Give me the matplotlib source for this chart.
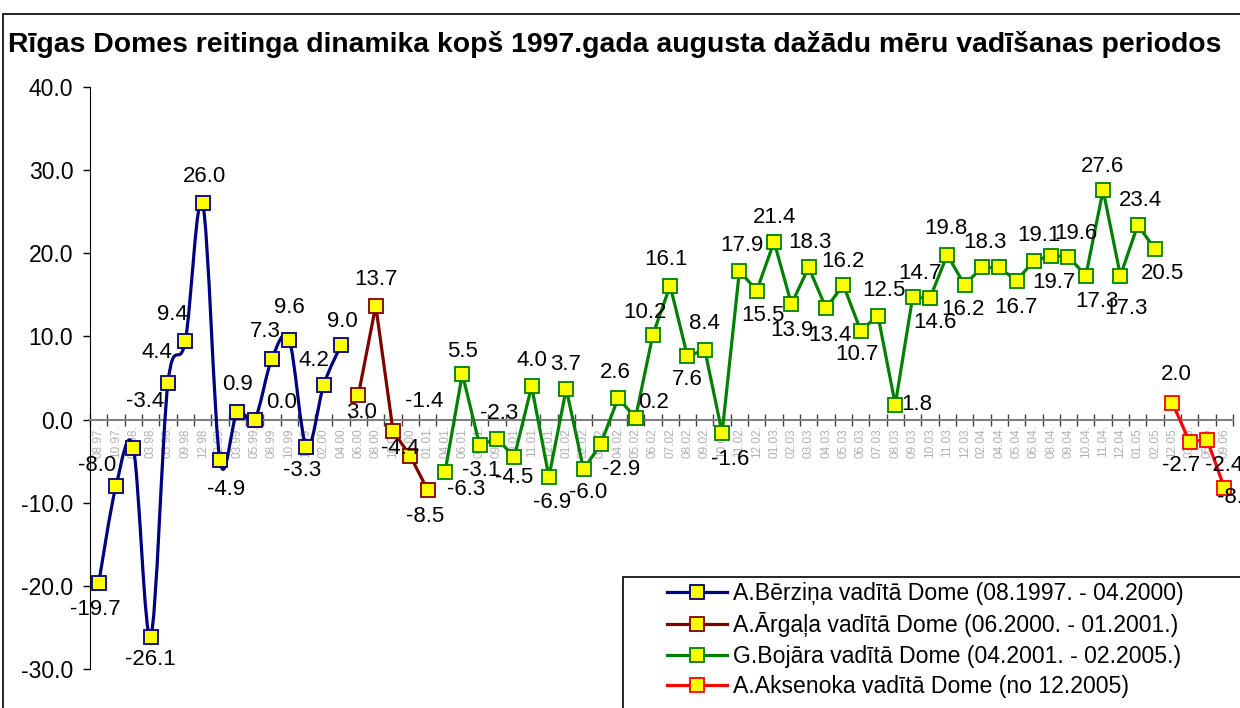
import numpy as np
import matplotlib
matplotlib.use("Agg")
import matplotlib.pyplot as plt
from matplotlib.path import Path
from matplotlib.patches import PathPatch, Rectangle
from matplotlib.lines import Line2D

plt.rcParams['font.family'] = ['Liberation Sans', 'DejaVu Sans']
plt.rcParams['axes.unicode_minus'] = False

# survey dates (category axis)
dates = ["08.97.", "10.97.", "01.98.", "03.98.", "05.98.", "09.98.", "12.98.", "02.99.",
         "03.99.", "05.99.", "08.99.", "10.99.", "12.99.", "02.00.", "04.00.",
         "06.00.", "08.00.", "10.00.", "12.00.", "01.01.",
         "04.01.", "06.01.", "08.01.", "09.01.", "10.01.", "11.01.", "12.01.",
         "01.02.", "02.02.", "03.02.", "04.02.", "05.02.", "06.02.", "07.02.", "08.02.",
         "09.02.", "10.02.", "11.02.", "12.02.",
         "01.03.", "02.03.", "03.03.", "04.03.", "05.03.", "06.03.", "07.03.", "08.03.",
         "09.03.", "10.03.", "11.03.", "12.03.",
         "02.04.", "04.04.", "05.04.", "06.04.", "08.04.", "09.04.", "10.04.", "11.04.",
         "12.04.", "01.05.", "02.05.",
         "12.05.", "03.06.", "06.06.", "09.06."]

berzins = [-19.7, -8.0, -3.4, -26.1, 4.4, 9.4, 26.0, -4.9, 0.9, 0.0, 7.3, 9.6, -3.3, 4.2, 9.0]
argals = [3.0, 13.7, -1.4, -4.4, -8.5]
bojars = [-6.3, 5.5, -3.1, -2.3, -4.5, 4.0, -6.9, 3.7, -6.0, -2.9, 2.6, 0.2, 10.2, 16.1,
          7.6, 8.4, -1.6, 17.9, 15.5, 21.4, 13.9, 18.3, 13.4, 16.2, 10.7, 12.5, 1.8,
          14.7, 14.6, 19.8, 16.2, 18.3, 18.3, 16.7, 19.1, 19.7, 19.6, 17.3, 27.6, 17.3,
          23.4, 20.5]
aksenoks = [2.0, -2.7, -2.4, -8.2]

series_names = ["A.Bērziņa vadītā Dome (08.1997. - 04.2000)",
                "A.Ārgaļa vadītā Dome (06.2000. - 01.2001.)",
                "G.Bojāra vadītā Dome (04.2001. - 02.2005.)",
                "A.Aksenoka vadītā Dome (no 12.2005)"]
colors = ["#000080", "#800000", "#008000", "#FF0000"]

# label placement (pixel offsets from point, x right / y down), None = no label
label_offsets = [
    (-3, 26), (-19, -21), (12, -46), (0, 23), (-11, -30), (-13, -27), (2, -27), (6, 29),
    (0, -28), (27, -17), (-7, -27), (0, -32), (-4, 23), (-10, -24), (1, -23),
    (3, 18), (0, -26), (31, -30), (-10, -8), (-3, 26),
    (21, 18), (0, -22), (2, 25), (2, -25), (0, 21), (0, -26), (3, 26), (-1, -24),
    (5, 23), (20, 26), (-3, -25), (18, -15), (-8, -22), (-4, -26), (0, 23), (0, -26),
    (8, 27), (2, -25), (6, 25), (0, -24), (0, 26), (1, -25), (4, 27), (0, -23),
    (-4, 24), (6, -25), (21, 0), (7, -24), (5, 24), (-1, -26), (-2, 25), (3, -25),
    None, (-1, 27), (5, -25), (3, 27), (7, -23), (11, 26), (-1, -24), (6, 33),
    (3, -25), (7, 24),
    (4, -28), (-9, 23), (17, 26), (12, 10),
]


def smooth_path(x, y):
    pts = np.column_stack([x, y]).astype(float)
    n = len(pts)
    verts = [pts[0]]
    codes = [Path.MOVETO]
    for i in range(n - 1):
        p0 = pts[i - 1] if i > 0 else pts[i]
        p1, p2 = pts[i], pts[i + 1]
        p3 = pts[i + 2] if i + 2 < n else pts[i + 1]
        verts += [p1 + (p2 - p0) / 6, p2 - (p3 - p1) / 6, p2]
        codes += [Path.CURVE4] * 3
    return Path(verts, codes)


fig = plt.figure(figsize=(12.4, 7.08), dpi=100)
ax = fig.add_axes([90 / 1240, 1 - 669 / 708, 1143 / 1240, 582 / 708])

all_vals = berzins + argals + bojars + aksenoks
groups = [berzins, argals, bojars, aksenoks]
handles = []
start = 0
for k, vals in enumerate(groups):
    x = np.arange(start, start + len(vals))
    if k == 0:
        # first period is drawn as a smoothed line
        ax.add_patch(PathPatch(smooth_path(x, vals), fc='none', ec=colors[k], lw=2.3,
                               joinstyle='round', capstyle='round', zorder=3))
        ls = 'none'
    else:
        ls = '-'
    ax.plot(x, vals, ls=ls, lw=2.3, color=colors[k], marker='s', ms=9.5,
            mfc='#FFFF00', mec=colors[k], mew=1.3, zorder=4)
    handles.append(Line2D([], [], color=colors[k], lw=2.3, marker='s', ms=9.5,
                          mfc='#FFFF00', mec=colors[k], mew=1.3))
    start += len(vals)

for i, v in enumerate(all_vals):
    off = label_offsets[i]
    if off is None:
        continue
    ax.annotate(f"{v:.1f}", (i, v), xytext=(off[0], -off[1]), textcoords='offset pixels',
                ha='center', va='center', fontsize=16, color='black', zorder=5,
                annotation_clip=False)

ax.set_xlim(-0.5, len(dates) - 0.5)
ax.set_ylim(-30, 40)
ax.set_yticks(np.arange(-30, 41, 10))
ax.set_yticklabels([f"{t:.1f}" for t in np.arange(-30, 41, 10)], fontsize=16.5)
ax.tick_params(axis='y', direction='out', length=5, width=1, pad=7, colors='black')

ax.set_xticks(np.arange(len(dates) + 1) - 0.5)
ax.set_xticklabels([])
ax.set_xticks(np.arange(len(dates)), minor=True)
ax.set_xticklabels(dates, minor=True)
ax.tick_params(axis='x', which='major', direction='inout', length=8, width=1, color='#404040')
ax.tick_params(axis='x', which='minor', length=0, pad=4, labelrotation=90,
               labelsize=8.5, labelcolor='#B0B0B0')
for lab in ax.get_xticklabels(minor=True):
    lab.set_verticalalignment('top')
    lab.set_horizontalalignment('center')

ax.spines['bottom'].set_position(('data', 0))
ax.spines['bottom'].set_color('#808080')
ax.spines['bottom'].set_linewidth(1.5)
ax.spines['left'].set_color('black')
ax.spines['top'].set_visible(False)
ax.spines['right'].set_visible(False)
ax.patch.set_alpha(0)

fig.text(8 / 1240, 1 - 45 / 708,
         "Rīgas Domes reitinga dinamika kopš 1997.gada augusta dažādu mēru vadīšanas periodos",
         fontsize=20.4, fontweight='bold', ha='left', va='center')

# outer chart border
fig.patches.append(Rectangle((3 / 1240, -0.1), 1.2, 1 - 14 / 708 + 0.1, transform=fig.transFigure,
                             fill=False, ec='black', lw=1.2, zorder=0))

# legend box
fig.patches.append(Rectangle((623 / 1240, -0.1), 1.0, 1 - 577 / 708 + 0.1,
                             transform=fig.transFigure, fc='white', ec='black', lw=1.2,
                             zorder=10))
leg = fig.legend(handles, series_names, loc='upper left',
                 bbox_to_anchor=(667 / 1240, 1 - 582 / 708), frameon=False, fontsize=16.6,
                 handlelength=2.6, handletextpad=0.26, labelspacing=0.32, borderpad=0,
                 borderaxespad=0)
leg.set_zorder(11)

fig.savefig("out.png", dpi=100)
